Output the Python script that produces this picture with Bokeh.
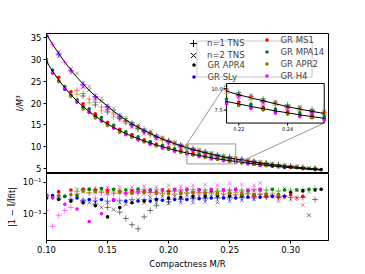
from bokeh.plotting import figure
from bokeh.models import (Range1d, FixedTicker, CustomJSTickFormatter, Legend,
                          LegendItem)
from bokeh.layouts import column
from bokeh.embed import file_html
from bokeh.resources import INLINE
from bokeh.core.properties import value

FONT = "DejaVu Sans"

# ---------------- data ----------------
fit_C = [0.100, 0.105, 0.110, 0.115, 0.120, 0.125, 0.130, 0.135, 0.140, 0.145,
         0.150, 0.155, 0.160, 0.165, 0.170, 0.175, 0.180, 0.185, 0.190, 0.195,
         0.200, 0.205, 0.210, 0.215, 0.220, 0.225, 0.230, 0.235, 0.240, 0.245,
         0.250, 0.255, 0.260, 0.265, 0.270, 0.275, 0.280, 0.285, 0.290, 0.295,
         0.300, 0.305, 0.310, 0.315, 0.320, 0.325]
fit_gr = [29.60, 27.31, 25.29, 23.50, 21.90, 20.47, 19.18, 18.03, 16.98, 16.03,
          15.16, 14.38, 13.65, 12.99, 12.38, 11.81, 11.29, 10.81, 10.36, 9.94,
          9.55, 9.18, 8.84, 8.52, 8.22, 7.94, 7.67, 7.42, 7.19, 6.96,
          6.75, 6.55, 6.36, 6.18, 6.01, 5.84, 5.69, 5.54, 5.40, 5.26,
          5.13, 5.01, 4.89, 4.77, 4.67, 4.56]
fit_tns = [35.8, 33.5, 31.4, 29.4, 27.6, 25.9, 24.4, 22.9, 21.6, 20.4,
           19.3, 18.1, 17.1, 16.1, 15.2, 14.4, 13.7, 13.0, 12.3, 11.7,
           11.2, 10.65, 10.2, 9.71, 9.29, 8.93, 8.59, 8.24, 7.91, 7.62,
           7.36, 7.11, 6.87, 6.64, 6.43, 6.22, 6.03, 5.84, 5.67, 5.52,
           5.39, 5.24, 5.09, 4.96, 4.86, 4.74]

# GR stars (dots)
apr4_gr_C = [0.10, 0.11, 0.12, 0.13, 0.14, 0.15, 0.16, 0.17, 0.18, 0.19, 0.20, 0.21,
             0.22, 0.23, 0.24, 0.25, 0.26, 0.27, 0.28, 0.29, 0.30, 0.31, 0.32, 0.325]
apr4_gr_I = [29.30, 25.09, 21.77, 19.08, 16.93, 15.15, 13.62, 12.32, 11.22, 10.28, 9.45, 8.74,
             8.11, 7.57, 7.09, 6.66, 6.31, 5.98, 5.70, 5.44, 5.22, 5.01, 4.80, 4.70]
apr4_gr_res = [0.010, 0.0079, 0.0063, 0.0050, 0.0032, 0.00063, 0.0025, 0.0050, 0.0063, 0.0079, 0.010, 0.011,
               0.0126, 0.0126, 0.014, 0.014, 0.014, 0.016, 0.016, 0.016, 0.022, 0.028, 0.032, 0.035]

sly_gr_C = [0.105, 0.115, 0.125, 0.135, 0.145, 0.155, 0.165, 0.175, 0.185, 0.195,
            0.205, 0.215, 0.225, 0.235, 0.245, 0.255, 0.265, 0.275, 0.285, 0.295]
sly_gr_I = [26.93, 23.19, 20.27, 17.89, 15.90, 14.28, 12.91, 11.74, 10.74, 9.87,
            9.11, 8.45, 7.87, 7.35, 6.89, 6.48, 6.11, 5.78, 5.47, 5.19]
sly_gr_res = [0.014, 0.0126, 0.010, 0.0079, 0.0079, 0.0071, 0.0063, 0.0063, 0.0063, 0.0071,
              0.0079, 0.0079, 0.0089, 0.010, 0.010, 0.010, 0.011, 0.011, 0.0126, 0.0126]

ms1_gr_C = [0.10, 0.11, 0.12, 0.13, 0.14, 0.15, 0.16, 0.17, 0.18, 0.19, 0.20,
            0.21, 0.22, 0.23, 0.24, 0.25, 0.26, 0.27, 0.28, 0.29, 0.30, 0.31]
ms1_gr_I = [30.01, 25.92, 22.60, 19.85, 17.52, 15.58, 13.99, 12.73, 11.57, 10.59, 9.79,
            9.02, 8.40, 7.82, 7.32, 6.89, 6.46, 6.09, 5.76, 5.46, 5.21, 4.95]
ms1_gr_res = [0.014, 0.025, 0.032, 0.035, 0.032, 0.028, 0.025, 0.028, 0.025, 0.022, 0.025,
              0.020, 0.022, 0.020, 0.018, 0.020, 0.016, 0.014, 0.0126, 0.011, 0.016, 0.0126]

mpa14_gr_C = [0.105, 0.115, 0.125, 0.135, 0.145, 0.155, 0.165, 0.175, 0.185, 0.195, 0.205,
              0.215, 0.225, 0.235, 0.245, 0.255, 0.265, 0.275, 0.285, 0.295, 0.305, 0.315]
mpa14_gr_I = [27.61, 23.80, 20.76, 18.66, 16.67, 14.88, 13.41, 12.22, 11.16, 10.26, 9.50,
              8.79, 8.19, 7.63, 7.18, 6.76, 6.35, 6.03, 5.73, 5.43, 5.17, 4.94]
mpa14_gr_res = [0.011, 0.0126, 0.014, 0.035, 0.040, 0.035, 0.032, 0.035, 0.032, 0.032, 0.035,
                0.032, 0.032, 0.028, 0.032, 0.032, 0.028, 0.032, 0.035, 0.032, 0.032, 0.035]

apr2_gr_C = [0.10, 0.11, 0.12, 0.13, 0.14, 0.15, 0.16, 0.17, 0.18, 0.19,
             0.20, 0.21, 0.22, 0.23, 0.24, 0.25, 0.26, 0.27, 0.28, 0.29]
apr2_gr_I = [29.22, 24.94, 21.55, 18.64, 16.56, 14.83, 13.31, 12.13, 11.04, 10.15,
             9.38, 8.66, 8.04, 7.52, 7.06, 6.62, 6.25, 5.91, 5.59, 5.31]
apr2_gr_res = [0.0126, 0.014, 0.016, 0.028, 0.025, 0.022, 0.025, 0.020, 0.022, 0.020,
               0.018, 0.020, 0.022, 0.020, 0.018, 0.020, 0.018, 0.016, 0.018, 0.016]

h4_gr_C = [0.105, 0.115, 0.125, 0.135, 0.145, 0.155, 0.165, 0.175, 0.185,
           0.195, 0.205, 0.215, 0.225, 0.235, 0.245, 0.255, 0.265, 0.275]
h4_gr_I = [27.04, 23.41, 20.43, 18.02, 16.01, 14.27, 12.73, 11.51, 10.51,
           9.62, 8.89, 8.22, 7.69, 7.16, 6.74, 6.32, 5.98, 5.64]
h4_gr_res = [0.010, 0.004, 0.002, 0.00032, 0.001, 0.0079, 0.020, 0.025, 0.028,
             0.032, 0.032, 0.035, 0.032, 0.035, 0.032, 0.035, 0.032, 0.035]

# n = 1 TNS (plus markers)
apr4_n1_C = [0.13, 0.14, 0.15, 0.16, 0.165, 0.17, 0.175, 0.18, 0.185, 0.19, 0.20, 0.21,
             0.22, 0.23, 0.24, 0.25, 0.26, 0.27, 0.28, 0.29, 0.30, 0.31, 0.32]
apr4_n1_I = [21.63, 19.58, 17.94, 16.42, 15.70, 15.00, 14.20, 13.51, 12.92, 12.24, 11.16, 10.18,
             9.33, 8.64, 7.99, 7.44, 6.95, 6.51, 6.11, 5.73, 5.45, 5.14, 4.90]
apr4_n1_res = [0.0063, 0.004, 0.0025, 0.00126, 0.0005, 0.0002, 0.00011, 0.00063, 0.0016, 0.0032, 0.0056, 0.0079,
               0.0089, 0.010, 0.010, 0.011, 0.011, 0.0126, 0.0126, 0.011, 0.011, 0.0107, 0.0079]

sly_n1_C = [0.10, 0.11, 0.12, 0.13, 0.14, 0.15, 0.16, 0.17, 0.18, 0.19,
            0.20, 0.21, 0.22, 0.23, 0.24, 0.25, 0.26, 0.27, 0.28, 0.29]
sly_n1_I = [35.30, 31.09, 27.38, 24.23, 21.47, 19.18, 16.98, 15.08, 13.59, 12.19,
            11.11, 10.11, 9.20, 8.51, 7.83, 7.29, 6.79, 6.37, 5.96, 5.60]
sly_n1_res = [0.014, 0.010, 0.0079, 0.0071, 0.0063, 0.0063, 0.0071, 0.0079, 0.0079, 0.0089,
              0.0079, 0.0089, 0.010, 0.0089, 0.010, 0.010, 0.011, 0.010, 0.011, 0.0126]

ms1_n1_C = [0.125, 0.135, 0.145, 0.155, 0.165, 0.175, 0.185, 0.195, 0.205, 0.215,
            0.225, 0.235, 0.245, 0.255, 0.265, 0.275, 0.285, 0.295, 0.305]
ms1_n1_I = [22.91, 20.91, 19.11, 17.44, 15.98, 14.48, 13.18, 11.83, 10.79, 9.86,
            9.09, 8.36, 7.76, 7.22, 6.76, 6.32, 5.92, 5.59, 5.29]
ms1_n1_res = [0.018, 0.020, 0.022, 0.020, 0.018, 0.020, 0.022, 0.020, 0.018, 0.020,
              0.022, 0.020, 0.018, 0.016, 0.018, 0.016, 0.014, 0.0126, 0.010]

mpa14_n1_C = [0.13, 0.14, 0.15, 0.16, 0.17, 0.18, 0.19, 0.20, 0.21, 0.22,
              0.23, 0.24, 0.25, 0.26, 0.27, 0.28, 0.29, 0.30, 0.31, 0.32]
mpa14_n1_I = [22.19, 20.18, 18.47, 16.86, 15.48, 13.97, 12.59, 11.41, 10.42, 9.57,
              8.82, 8.13, 7.60, 7.09, 6.66, 6.22, 5.83, 5.56, 5.27, 5.05]
mpa14_n1_res = [0.032, 0.035, 0.032, 0.028, 0.032, 0.035, 0.032, 0.028, 0.032, 0.035,
                0.032, 0.028, 0.032, 0.032, 0.035, 0.032, 0.028, 0.032, 0.035, 0.040]

apr2_n1_C = [0.125, 0.135, 0.145, 0.155, 0.165, 0.175, 0.185, 0.195, 0.205,
             0.215, 0.225, 0.235, 0.245, 0.255, 0.265, 0.275, 0.285]
apr2_n1_I = [21.94, 20.05, 18.23, 16.76, 15.35, 13.85, 12.62, 11.37, 10.34,
             9.46, 8.71, 8.02, 7.43, 6.95, 6.51, 6.11, 5.72]
apr2_n1_res = [0.025, 0.022, 0.025, 0.020, 0.022, 0.025, 0.022, 0.020, 0.025,
               0.022, 0.020, 0.022, 0.025, 0.022, 0.020, 0.018, 0.020]

h4_n1_C = [0.10, 0.105, 0.11, 0.115, 0.12, 0.13, 0.14, 0.15, 0.16, 0.17,
           0.18, 0.19, 0.20, 0.21, 0.22, 0.23, 0.24, 0.25, 0.26, 0.27]
h4_n1_I = [35.73, 33.50, 31.37, 29.35, 27.53, 24.28, 21.38, 18.99, 16.76, 14.87,
           13.36, 12.03, 10.92, 9.91, 9.06, 8.40, 7.71, 7.15, 6.70, 6.25]
h4_n1_res = [0.0016, 0.00016, 0.0008, 0.0016, 0.0025, 0.005, 0.010, 0.016, 0.020, 0.022,
             0.025, 0.022, 0.025, 0.028, 0.025, 0.022, 0.025, 0.028, 0.025, 0.028]

# n = 2 TNS (x markers)
apr4_n2_C = [0.135, 0.145, 0.155, 0.165, 0.175, 0.185, 0.195, 0.205, 0.215, 0.225,
             0.235, 0.245, 0.255, 0.265, 0.275, 0.285, 0.295, 0.305, 0.315]
apr4_n2_I = [23.01, 20.45, 18.14, 16.16, 14.52, 13.14, 11.85, 10.78, 9.85, 9.04,
             8.34, 7.73, 7.20, 6.72, 6.31, 5.91, 5.58, 5.29, 4.96]
apr4_n2_res = [0.005, 0.0025, 0.0018, 0.004, 0.0079, 0.011, 0.0126, 0.0126, 0.014, 0.0126,
               0.0126, 0.014, 0.0126, 0.0126, 0.014, 0.0126, 0.011, 0.010, 0.0008]

sly_n2_C = [0.10, 0.11, 0.12, 0.13, 0.14, 0.15, 0.16, 0.17, 0.18,
            0.19, 0.20, 0.21, 0.22, 0.23, 0.24, 0.25, 0.26, 0.27]
sly_n2_I = [35.95, 31.71, 27.82, 24.55, 21.72, 19.40, 17.19, 15.29, 13.77,
            12.36, 11.25, 10.25, 9.34, 8.64, 7.95, 7.41, 6.92, 6.48]
sly_n2_res = [0.0126, 0.010, 0.0079, 0.0063, 0.0056, 0.005, 0.005, 0.0056, 0.005,
              0.005, 0.0045, 0.005, 0.005, 0.0056, 0.005, 0.0063, 0.0071, 0.0079]

ms1_n2_C = [0.13, 0.14, 0.15, 0.16, 0.17, 0.18, 0.19, 0.20, 0.21, 0.22,
            0.23, 0.24, 0.25, 0.26, 0.27, 0.28, 0.29, 0.30, 0.31]
ms1_n2_I = [23.79, 21.12, 18.91, 16.72, 14.90, 13.45, 12.05, 10.95, 10.00, 9.12,
            8.42, 7.77, 7.24, 6.75, 6.33, 5.95, 5.64, 5.35, 5.07]
ms1_n2_res = [0.025, 0.022, 0.020, 0.022, 0.020, 0.018, 0.020, 0.022, 0.020, 0.018,
              0.020, 0.018, 0.016, 0.018, 0.016, 0.014, 0.0063, 0.0079, 0.0035]

mpa14_n2_C = [0.125, 0.135, 0.145, 0.155, 0.165, 0.175, 0.185, 0.195, 0.205, 0.215,
              0.225, 0.235, 0.245, 0.255, 0.265, 0.275, 0.285, 0.295, 0.305, 0.315]
mpa14_n2_I = [26.81, 23.82, 21.11, 18.68, 16.66, 14.98, 13.46, 12.07, 11.02, 10.10,
              9.24, 8.50, 7.89, 7.39, 6.87, 6.42, 6.04, 5.74, 5.41, 5.08]
mpa14_n2_res = [0.035, 0.040, 0.035, 0.032, 0.035, 0.040, 0.035, 0.032, 0.035, 0.040,
                0.035, 0.032, 0.035, 0.040, 0.035, 0.032, 0.035, 0.040, 0.032, 0.025]

apr2_n2_C = [0.13, 0.14, 0.15, 0.16, 0.17, 0.18, 0.19, 0.20, 0.21,
             0.22, 0.23, 0.24, 0.25, 0.26, 0.27, 0.28, 0.29]
apr2_n2_I = [23.72, 21.06, 18.76, 16.55, 14.77, 13.36, 11.96, 10.84, 9.91,
             9.06, 8.35, 7.66, 7.15, 6.70, 6.25, 5.88, 5.55]
apr2_n2_res = [0.028, 0.025, 0.028, 0.032, 0.028, 0.025, 0.028, 0.032, 0.028,
               0.025, 0.028, 0.032, 0.028, 0.025, 0.028, 0.025, 0.022]

h4_n2_C = [0.10, 0.11, 0.12, 0.13, 0.14, 0.15, 0.16, 0.17, 0.18, 0.19,
           0.20, 0.21, 0.22, 0.23, 0.24, 0.25, 0.26, 0.27, 0.275]
h4_n2_I = [35.23, 30.83, 27.05, 23.62, 20.74, 18.43, 16.25, 14.44, 12.93, 11.69,
           10.49, 9.63, 8.70, 7.98, 7.41, 6.78, 6.38, 6.02, 5.67]
h4_n2_res = [0.016, 0.018, 0.020, 0.032, 0.040, 0.045, 0.050, 0.050, 0.056, 0.050,
             0.063, 0.056, 0.063, 0.071, 0.063, 0.079, 0.071, 0.063, 0.089]

eos_names = ["APR4", "SLy", "MS1", "MPA14", "APR2", "H4"]
x_ticks = [0.10, 0.15, 0.20, 0.25, 0.30]
y_ticks_top = [5, 10, 15, 20, 25, 30, 35]
y_ticks_bot = [1e-3, 1e-1]
inset_xticks = [0.22, 0.24]
inset_yticks = [7.5, 10.0]

# ---------------- styling ----------------
COLORS = ["black", "#0000ff", "#ff0000", "#008000", "#808000", "#ff00ff"]
GR = [(apr4_gr_C, apr4_gr_I, apr4_gr_res), (sly_gr_C, sly_gr_I, sly_gr_res),
      (ms1_gr_C, ms1_gr_I, ms1_gr_res), (mpa14_gr_C, mpa14_gr_I, mpa14_gr_res),
      (apr2_gr_C, apr2_gr_I, apr2_gr_res), (h4_gr_C, h4_gr_I, h4_gr_res)]
N1 = [(apr4_n1_C, apr4_n1_I, apr4_n1_res), (sly_n1_C, sly_n1_I, sly_n1_res),
      (ms1_n1_C, ms1_n1_I, ms1_n1_res), (mpa14_n1_C, mpa14_n1_I, mpa14_n1_res),
      (apr2_n1_C, apr2_n1_I, apr2_n1_res), (h4_n1_C, h4_n1_I, h4_n1_res)]
N2 = [(apr4_n2_C, apr4_n2_I, apr4_n2_res), (sly_n2_C, sly_n2_I, sly_n2_res),
      (ms1_n2_C, ms1_n2_I, ms1_n2_res), (mpa14_n2_C, mpa14_n2_I, mpa14_n2_res),
      (apr2_n2_C, apr2_n2_I, apr2_n2_res), (h4_n2_C, h4_n2_I, h4_n2_res)]

DOT = dict(marker="circle", size=3.6, line_width=0)
PLUS = dict(marker="cross", size=6, line_width=1, alpha=0.5)
CROSS = dict(marker="x", size=5.5, line_width=1, alpha=0.5)

FS = "8.5px"
W = 350
LB, RB = 46, 22
FRAME_H = 140


def style(fig):
    fig.background_fill_color = "white"
    fig.border_fill_color = "white"
    fig.outline_line_color = "black"
    fig.outline_line_width = 1
    fig.xgrid.visible = False
    fig.ygrid.visible = False
    for ax in fig.axis:
        ax.major_label_text_font = FONT
        ax.major_label_text_font_size = FS
        ax.major_label_text_color = "black"
        ax.axis_label_text_font = FONT
        ax.axis_label_text_font_size = FS
        ax.axis_label_text_font_style = "normal"
        ax.axis_label_text_color = "black"
        ax.axis_line_color = "black"
        ax.major_tick_line_color = "black"
        ax.major_tick_out = 3
        ax.major_tick_in = 0
        ax.minor_tick_line_color = None
        ax.major_label_standoff = 2
        ax.axis_label_standoff = 3


# ---------------- top panel ----------------
p = figure(width=W, height=33 + FRAME_H, x_range=Range1d(0.10, 0.331), y_range=Range1d(3.8, 36.0),
           output_backend="svg", toolbar_location=None,
           min_border_left=LB, min_border_right=RB, min_border_top=33, min_border_bottom=0)
style(p)
p.xaxis.visible = False
p.yaxis.ticker = FixedTicker(ticks=y_ticks_top)
p.yaxis.axis_label = "I/M³"
p.yaxis.axis_label_text_font_style = "italic"

for (C, I, r), col in zip(N2, COLORS):
    p.scatter(C, I, color=col, **CROSS)
for (C, I, r), col in zip(N1, COLORS):
    p.scatter(C, I, color=col, **PLUS)
gr_renderers = []
for (C, I, r), col in zip(GR, COLORS):
    gr_renderers.append(p.scatter(C, I, color=col, **DOT))

p.line(fit_C, fit_gr, line_color="black", line_width=1)
p.line(fit_C, fit_tns, line_color="black", line_width=1)

# inset (zoom) ---------------------------------------
ix0, ix1, iy0, iy1 = 0.215, 0.255, 6.0, 10.6      # zoomed view limits
tx0, tx1, ty0, ty1 = 0.2475, 0.3275, 15.4, 24.5   # where the inset sits
p.quad(left=[ix0], right=[ix1], bottom=[iy0], top=[iy1], fill_color=None,
       line_color="#999999", line_width=1)
p.segment(x0=[ix0, ix1], y0=[iy1, iy0], x1=[tx0, tx1], y1=[ty1, ty0],
          line_color="#999999", line_width=1)

ins = p.subplot(x_source=Range1d(ix0, ix1), y_source=Range1d(iy0, iy1),
                x_target=Range1d(tx0, tx1), y_target=Range1d(ty0, ty1))
ins.quad(left=[ix0], right=[ix1], bottom=[iy0], top=[iy1], fill_color="white",
         line_color="black", line_width=1)


def inside(C, I):
    pts = [(c, v) for c, v in zip(C, I) if ix0 <= c <= ix1 and iy0 <= v <= iy1]
    return [a for a, b in pts], [b for a, b in pts]


for (C, I, r), col in zip(N2, COLORS):
    xs, ys = inside(C, I)
    ins.scatter(xs, ys, color=col, **CROSS)
for (C, I, r), col in zip(N1, COLORS):
    xs, ys = inside(C, I)
    ins.scatter(xs, ys, color=col, **PLUS)
for (C, I, r), col in zip(GR, COLORS):
    xs, ys = inside(C, I)
    ins.scatter(xs, ys, color=col, **DOT)
for fit in (fit_gr, fit_tns):
    xs, ys = inside(fit_C, fit)
    ins.line(xs, ys, line_color="black", line_width=1)

ins.segment(x0=inset_xticks, y0=[iy0] * 2, x1=inset_xticks, y1=[iy0 - 0.3] * 2,
            line_color="black", line_width=1)
ins.segment(x0=[ix0] * 2, y0=inset_yticks, x1=[ix0 - 0.0012] * 2, y1=inset_yticks,
            line_color="black", line_width=1)
ins.text(x=inset_xticks, y=[iy0] * 2, text=["%.2f" % t for t in inset_xticks],
         y_offset=4, text_align="center", text_baseline="top",
         text_font=value(FONT), text_font_size="5px", text_color="black")
ins.text(x=[ix0] * 2, y=inset_yticks, text=["%.1f" % t for t in inset_yticks],
         x_offset=-4, text_align="right", text_baseline="middle",
         text_font=value(FONT), text_font_size="5px", text_color="black")

# legend ------------------------------------------------------------
NAN = float("nan")
# legend frame: a legend whose only glyph is one big outlined rectangle
frame_proxy = p.quad(left=[NAN], right=[NAN], bottom=[NAN], top=[NAN],
                     fill_alpha=0, line_color="#c8c8c8", line_width=1)
leg_n1 = p.scatter([NAN], [NAN], marker="cross", size=7, line_width=1, color="black")
leg_n2 = p.scatter([NAN], [NAN], marker="x", size=7, line_width=1, color="black")

LEG = dict(label_text_font=FONT, label_text_font_size=FS, label_height=9,
           padding=0, margin=0, border_line_color=None, background_fill_alpha=0,
           orientation="vertical")

l_box = Legend(items=[LegendItem(label="", renderers=[frame_proxy])],
               location=(136, FRAME_H - 48), glyph_width=144, glyph_height=45,
               label_standoff=0, spacing=0, **LEG)
l_n1 = Legend(items=[LegendItem(label="n=1 TNS", renderers=[leg_n1])],
              location=(138, FRAME_H - 19), glyph_width=18, glyph_height=18,
              label_standoff=5, spacing=0, **LEG)
l_n2 = Legend(items=[LegendItem(label="n=2 TNS", renderers=[leg_n2])],
              location=(138, FRAME_H - 30.5), glyph_width=18, glyph_height=18,
              label_standoff=5, spacing=0, **LEG)
l_g1 = Legend(items=[LegendItem(label="GR " + n, renderers=[r])
                     for n, r in zip(eos_names[:2], gr_renderers[:2])],
              location=(142.5, FRAME_H - 48.5), glyph_width=9, glyph_height=9,
              label_standoff=10, spacing=2, **LEG)
l_g2 = Legend(items=[LegendItem(label="GR " + n, renderers=[r])
                     for n, r in zip(eos_names[2:], gr_renderers[2:])],
              location=(215.5, FRAME_H - 47.5), glyph_width=9, glyph_height=9,
              label_standoff=10, spacing=2, **LEG)
for lg in (l_box, l_n1, l_n2, l_g1, l_g2):
    p.add_layout(lg)

# ---------------- bottom panel ----------------
q = figure(width=W, height=98, x_range=p.x_range, y_axis_type="log",
           y_range=Range1d(2.0e-5, 0.355), output_backend="svg", toolbar_location=None,
           min_border_left=LB, min_border_right=RB, min_border_top=0, min_border_bottom=28)
style(q)
q.xaxis.ticker = FixedTicker(ticks=x_ticks)
q.xaxis.formatter = CustomJSTickFormatter(code="return tick.toFixed(2);")
q.xaxis.axis_label = "Compactness M/R"
q.yaxis.ticker = FixedTicker(ticks=y_ticks_bot)
q.yaxis.formatter = CustomJSTickFormatter(code="return tick < 0.01 ? '10\u207b\u00b3' : '10\u207b\u00b9';")
q.yaxis.axis_label = "|1 − Ī/Īfit|"

for (C, I, r), col in zip(N2, COLORS):
    q.scatter(C, r, color=col, **CROSS)
for (C, I, r), col in zip(N1, COLORS):
    q.scatter(C, r, color=col, **PLUS)
for (C, I, r), col in zip(GR, COLORS):
    q.scatter(C, r, color=col, **DOT)

layout = column(p, q, spacing=0)
with open("out.html", "w", encoding="utf-8") as f:
    f.write(file_html(layout, INLINE))
